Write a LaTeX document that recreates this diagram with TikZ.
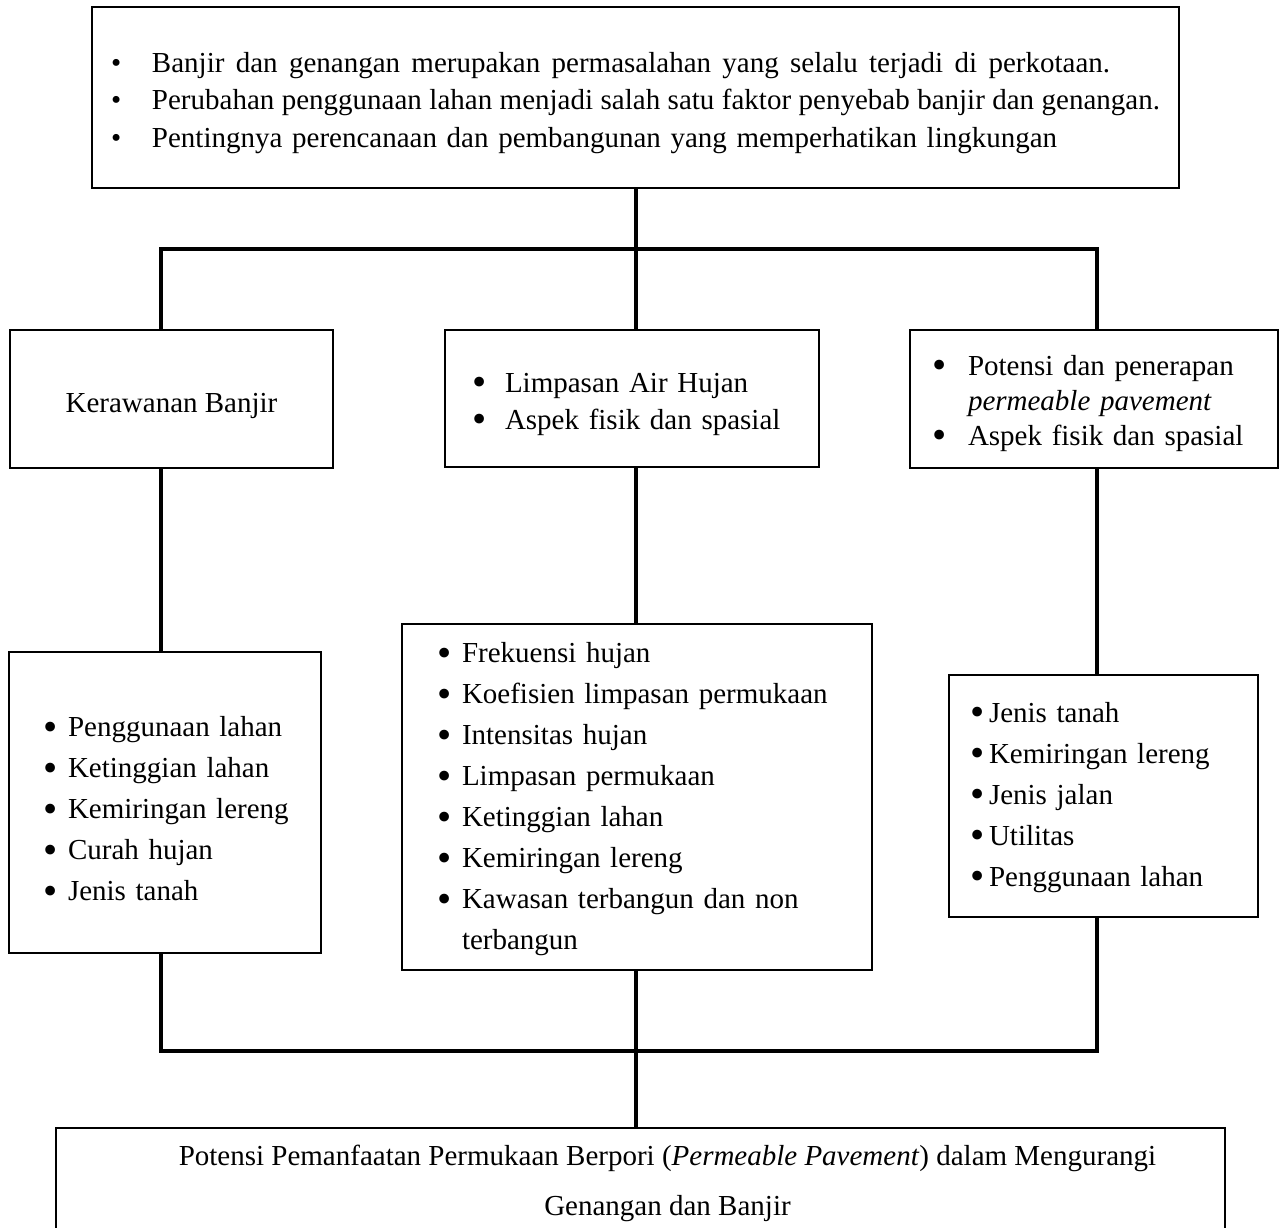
\documentclass[tikz,border=0pt]{standalone}
\usepackage{fontspec}
\usepackage{graphicx}
\setmainfont{Liberation Serif}
\newcommand\fsz[2]{\fontsize{#1}{#2}\selectfont}
\newcommand\bul{\raisebox{-0.12em}{\scalebox{1.4}{\textbullet}}}
\newcommand\fitline[2]{{\spaceskip=0.25em plus 1em minus 0.15em\makebox[#1][s]{#2}}}
\begin{document}
\begin{tikzpicture}[x=1pt,y=-1pt,
  box/.style={draw, line width=2pt, inner ysep=0pt, outer sep=0pt},
  listbox/.style={box, align=left},
  conn/.style={line width=3.6pt}]
\useasboundingbox (0,0) rectangle (1280,1228);

% top box
\node[listbox, minimum width=1087pt, minimum height=180pt, text width=1049pt, inner xsep=19pt,
      font=\fsz{29}{37.5}] (top) at (635.5,97.5)
 {\begin{tabular}{@{}p{41pt}@{}l@{}}
  \rule{0pt}{36pt}\textbullet & \fitline{958pt}{Banjir dan genangan merupakan permasalahan yang selalu terjadi di perkotaan.}\\
  \textbullet & \fitline{1008pt}{Perubahan penggunaan lahan menjadi salah satu faktor penyebab banjir dan genangan.}\\
  \textbullet & Pentingnya perencanaan dan pembangunan yang memperhatikan lingkungan
 \end{tabular}};

% second row
\node[box, minimum width=323pt, minimum height=138pt, font=\fsz{29}{65}] (kb) at (171.5,399)
 {\strut Kerawanan Banjir};

\node[listbox, minimum width=374pt, minimum height=137pt, text width=320pt, inner xsep=27pt,
      font=\fsz{29}{37}] (la) at (632,398.5)
 {\begin{tabular}{@{}p{33pt}@{}l@{}}
  \rule{0pt}{36pt}\bul & Limpasan Air Hujan\\
  \bul & Aspek fisik dan spasial
 \end{tabular}};

\node[listbox, minimum width=368pt, minimum height=138pt, text width=324pt, inner xsep=22pt,
      font=\fsz{29}{35}] (pp) at (1094,399)
 {\begin{tabular}{@{}p{36pt}@{}l@{}}
  \rule{0pt}{33.5pt}\bul & Potensi dan penerapan\\
   & \textit{permeable pavement}\\
  \bul & Aspek fisik dan spasial
 \end{tabular}};

% third row
\node[listbox, minimum width=312pt, minimum height=301pt, text width=244pt, inner xsep=34pt,
      font=\fsz{29}{41}] (fk) at (165,802.5)
 {\begin{tabular}{@{}p{25pt}@{}l@{}}
  \rule{0pt}{44.7pt}\bul & Penggunaan lahan\\
  \bul & Ketinggian lahan\\
  \bul & Kemiringan lereng\\
  \bul & Curah hujan\\
  \bul & Jenis tanah
 \end{tabular}};

\node[listbox, minimum width=470pt, minimum height=346pt, text width=400pt, inner xsep=35pt,
      font=\fsz{29}{41}] (fm) at (637,797)
 {\begin{tabular}{@{}p{25pt}@{}l@{}}
  \rule{0pt}{31pt}\bul & Frekuensi hujan\\
  \bul & Koefisien limpasan permukaan\\
  \bul & Intensitas hujan\\
  \bul & Limpasan permukaan\\
  \bul & Ketinggian lahan\\
  \bul & Kemiringan lereng\\
  \bul & Kawasan terbangun dan non\\
   & terbangun
 \end{tabular}};

\node[listbox, minimum width=309pt, minimum height=242pt, text width=267pt, inner xsep=21pt,
      font=\fsz{29}{41}] (fr) at (1103.5,796)
 {\begin{tabular}{@{}p{19pt}@{}l@{}}
  \bul & Jenis tanah\\
  \bul & Kemiringan lereng\\
  \bul & Jenis jalan\\
  \bul & Utilitas\\
  \bul & Penggunaan lahan
 \end{tabular}};

% goal box (runs past the lower edge)
\node[box, inner sep=0pt, anchor=north, font=\fsz{29}{50}] (goal) at (640.5,1128)
 {\parbox[c][200pt][t]{1169pt}{\vspace*{17pt}\centering
   \hspace*{54pt}Potensi Pemanfaatan Permukaan Berpori (\textit{Permeable Pavement}) dalam Mengurangi\\
   \hspace*{54pt}Genangan dan Banjir}};

% junction coordinates
\coordinate (aL) at (161,249);
\coordinate (aM) at (636,249);
\coordinate (aR) at (1097,249);
\coordinate (bL) at (161,1051);
\coordinate (bM) at (636,1051);
\coordinate (bR) at (1097,1051);

% connectors
\draw[conn] (top.south -| aM) -- (aM);
\draw[conn] (kb.north -| aL) -- (aL) -- (aR) -- (pp.north -| aR);
\draw[conn] (aM) -- (la.north -| aM);
\draw[conn] (kb.south -| aL) -- (fk.north -| aL);
\draw[conn] (la.south -| aM) -- (fm.north -| aM);
\draw[conn] (pp.south -| aR) -- (fr.north -| aR);
\draw[conn] (fk.south -| bL) -- (bL) -- (bR) -- (fr.south -| bR);
\draw[conn] (fm.south -| bM) -- (goal.north -| bM);
\end{tikzpicture}
\end{document}
